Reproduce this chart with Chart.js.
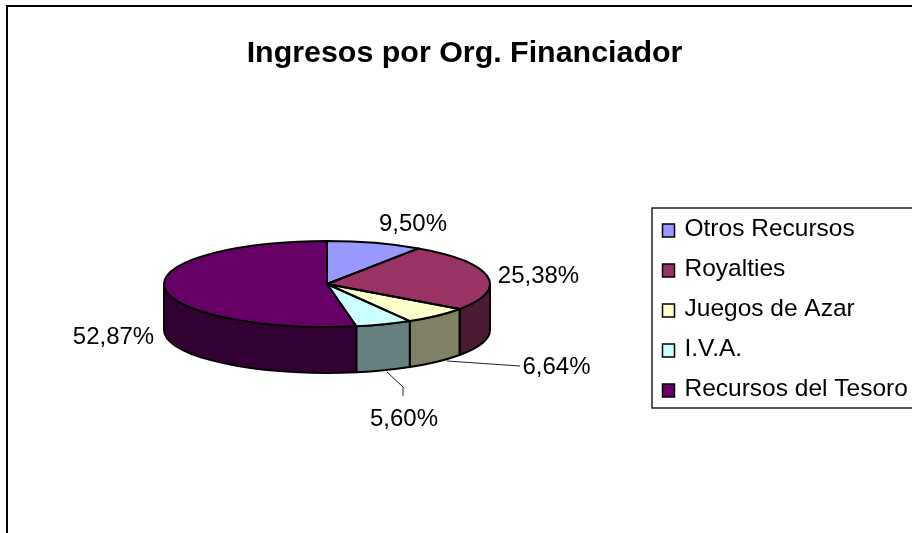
<!DOCTYPE html>
<html>
<head>
<meta charset="utf-8">
<title>Ingresos por Org. Financiador</title>
<script src="https://cdn.jsdelivr.net/npm/chart.js@4"></script>
<style>
    html, body { margin: 0; padding: 0; background: #fff; }
    canvas { display: block; }
</style>
</head>
<body>
<canvas id="chart" width="912" height="533"></canvas>
<script>
const chartTitle = 'Ingresos por Org. Financiador';
const categories = ['Otros Recursos', 'Royalties', 'Juegos de Azar', 'I.V.A.', 'Recursos del Tesoro'];
const percentages = [9.5, 25.38, 6.64, 5.6, 52.87];
const topColors = ['#9999ff', '#993366', '#ffffcc', '#ccffff', '#660066'];
const sideColors = ['#4d4d80', '#4d1a33', '#808066', '#668080', '#330033'];

// where the percentage text sits, same order as categories
const labelCenters = [[413, 224], [538.5, 276], [556.5, 367], [404, 419], [113.5, 337]];

const FONT = '"Liberation Sans", Arial, sans-serif';
const TILT = 43 / 163; // ellipse height / width of the pie top
const DEPTH = 46;

const formatPercent = (value) => `${value.toFixed(2).replace('.', ',')}%`;

// the pie is a flat Chart.js pie, squashed into an ellipse with walls below it
const tiltPlugin = {
    id: 'tilt',
    beforeDraw(chart) {
        const ctx = chart.ctx;
        ctx.save();
        ctx.fillStyle = '#fff';
        ctx.fillRect(0, 0, chart.width, chart.height);
        ctx.strokeStyle = '#000';
        ctx.lineWidth = 2;
        ctx.beginPath();
        ctx.moveTo(7, 533);
        ctx.lineTo(7, 6);
        ctx.lineTo(912, 6);
        ctx.stroke();
        ctx.restore();
    },
    beforeDatasetsDraw(chart) {
        const ctx = chart.ctx;
        const arcs = chart.getDatasetMeta(0).data;
        ctx.save();
        ctx.lineWidth = 2;
        ctx.lineJoin = 'round';
        ctx.strokeStyle = '#000';
        arcs.forEach((arc, i) => {
            const start = Math.max(arc.startAngle, 0);
            const end = Math.min(arc.endAngle, Math.PI);
            if (end <= start) return;
            const rx = arc.outerRadius;
            const ry = rx * TILT;
            ctx.beginPath();
            ctx.ellipse(arc.x, arc.y, rx, ry, 0, start, end);
            ctx.ellipse(arc.x, arc.y + DEPTH, rx, ry, 0, end, start, true);
            ctx.closePath();
            ctx.fillStyle = sideColors[i];
            ctx.fill();
            ctx.stroke();
        });
        ctx.restore();
    },
    beforeDatasetDraw(chart) {
        const arc = chart.getDatasetMeta(0).data[0];
        const ctx = chart.ctx;
        ctx.save();
        ctx.translate(arc.x, arc.y);
        ctx.scale(1, TILT);
        ctx.translate(-arc.x, -arc.y);
    },
    afterDatasetDraw(chart) {
        chart.ctx.restore();
    },
    afterDatasetsDraw(chart) {
        const ctx = chart.ctx;
        const arcs = chart.getDatasetMeta(0).data;
        ctx.save();
        ctx.lineWidth = 2;
        ctx.lineJoin = 'round';
        ctx.strokeStyle = '#000';
        arcs.forEach((arc) => {
            // path is built squashed, stroked unsquashed so the outline keeps its width
            ctx.save();
            ctx.translate(arc.x, arc.y);
            ctx.scale(1, TILT);
            ctx.beginPath();
            ctx.moveTo(0, 0);
            ctx.arc(0, 0, arc.outerRadius, arc.startAngle, arc.endAngle);
            ctx.closePath();
            ctx.restore();
            ctx.stroke();
        });
        ctx.restore();
    },
    afterDraw(chart) {
        const ctx = chart.ctx;
        ctx.save();

        ctx.fillStyle = '#000';
        ctx.textBaseline = 'middle';
        ctx.textAlign = 'center';
        ctx.font = `bold 30.4px ${FONT}`;
        ctx.fillText(chartTitle, 464.5, 54);

        // leader lines for the two thin slices
        ctx.strokeStyle = '#222';
        ctx.lineWidth = 1;
        ctx.beginPath();
        ctx.moveTo(447, 361);
        ctx.lineTo(520, 366);
        ctx.moveTo(387, 372);
        ctx.lineTo(403, 387);
        ctx.lineTo(403, 396);
        ctx.stroke();

        ctx.font = `24px ${FONT}`;
        percentages.forEach((value, i) => {
            ctx.fillText(formatPercent(value), labelCenters[i][0], labelCenters[i][1]);
        });

        // legend frame runs off the right edge of the page
        ctx.strokeStyle = '#222';
        ctx.lineWidth = 1.5;
        ctx.beginPath();
        ctx.moveTo(912, 208);
        ctx.lineTo(652, 208);
        ctx.lineTo(652, 408);
        ctx.lineTo(912, 408);
        ctx.stroke();

        ctx.textAlign = 'left';
        ctx.font = `24.5px ${FONT}`;
        categories.forEach((name, i) => {
            const y = 230.5 + i * 40;
            ctx.fillStyle = topColors[i];
            ctx.fillRect(662.5, y - 6.5, 12, 13);
            ctx.strokeStyle = '#000';
            ctx.lineWidth = 1.5;
            ctx.strokeRect(662.5, y - 6.5, 12, 13);
            ctx.fillStyle = '#000';
            ctx.fillText(name, 684.5, y - 1.5);
        });
        ctx.restore();
    },
};

window.addEventListener('load', () => {
    new Chart(document.getElementById('chart'), {
        type: 'pie',
        data: {
            labels: categories,
            datasets: [
                {
                    data: percentages,
                    backgroundColor: topColors,
                    borderWidth: 0,
                },
            ],
        },
        options: {
            responsive: false,
            animation: false,
            radius: 163,
            layout: { padding: { top: 35, right: 258 } },
            plugins: {
                legend: { display: false },
                tooltip: { enabled: false },
            },
        },
        plugins: [tiltPlugin],
    });
});
</script>
</body>
</html>
